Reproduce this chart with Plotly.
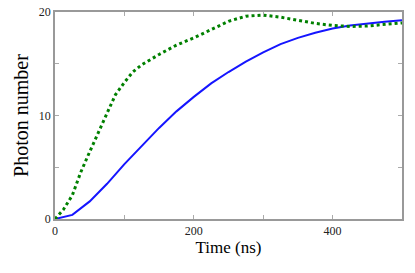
import plotly.graph_objects as go

t_blue = [0, 25, 50, 75, 100, 125, 150, 175, 200, 225, 250, 275, 300, 325, 350, 375, 400, 425, 450, 475, 500]
n_blue = [0, 0.4, 1.7, 3.4, 5.3, 7.1, 8.8, 10.4, 11.8, 13.1, 14.2, 15.2, 16.1, 16.9, 17.5, 18.0, 18.4, 18.7, 18.9, 19.05, 19.2]

t_green = [0, 12, 25, 37, 50, 62, 75, 87, 100, 112, 125, 150, 175, 200, 225, 250, 275, 300, 325, 350, 375, 400, 425, 450, 475, 500]
n_green = [0, 0.9, 2.3, 4.5, 6.5, 8.3, 10.2, 12.0, 13.2, 14.2, 14.9, 15.9, 16.8, 17.5, 18.3, 19.1, 19.6, 19.7, 19.5, 19.2, 18.9, 18.7, 18.6, 18.65, 18.8, 18.95]

x_ticks = [0, 100, 200, 300, 400, 500]
x_labels = ["0", "", "200", "", "400", ""]
y_ticks = [0, 5, 10, 15, 20]
y_labels = ["0", "", "10", "", "20"]

fig = go.Figure()
fig.add_trace(go.Scatter(x=t_blue, y=n_blue, mode="lines",
                         line=dict(color="#1515ff", width=2), showlegend=False, cliponaxis=False))
fig.add_trace(go.Scatter(x=t_green, y=n_green, mode="lines",
                         line=dict(color="#008000", width=3, dash="dot"), showlegend=False, cliponaxis=False))

axis_common = dict(showgrid=False, zeroline=False, showline=True, linecolor="#999999",
                   linewidth=1.5, mirror="ticks", ticks="inside", ticklen=4, automargin=False,
                   tickcolor="#aaaaaa", tickfont=dict(family="Liberation Serif", size=12, color="#222222"))

fig.update_layout(
    width=415, height=273,
    margin=dict(l=55, r=13, t=12, b=54),
    paper_bgcolor="white", plot_bgcolor="white",
    xaxis=dict(range=[0, 500], tickvals=x_ticks, ticktext=x_labels,
               title=dict(text="Time (ns)", font=dict(family="Liberation Serif", size=17, color="black"), standoff=4),
               **axis_common),
    yaxis=dict(range=[0, 20], tickvals=y_ticks, ticktext=y_labels,
               title=dict(text="Photon number", font=dict(family="Liberation Serif", size=20, color="black"), standoff=5),
               **axis_common),
)
fig.write_html("out.html", config={"displayModeBar": False},
               post_script="document.body.style.margin='0';document.body.style.overflow='hidden';")
